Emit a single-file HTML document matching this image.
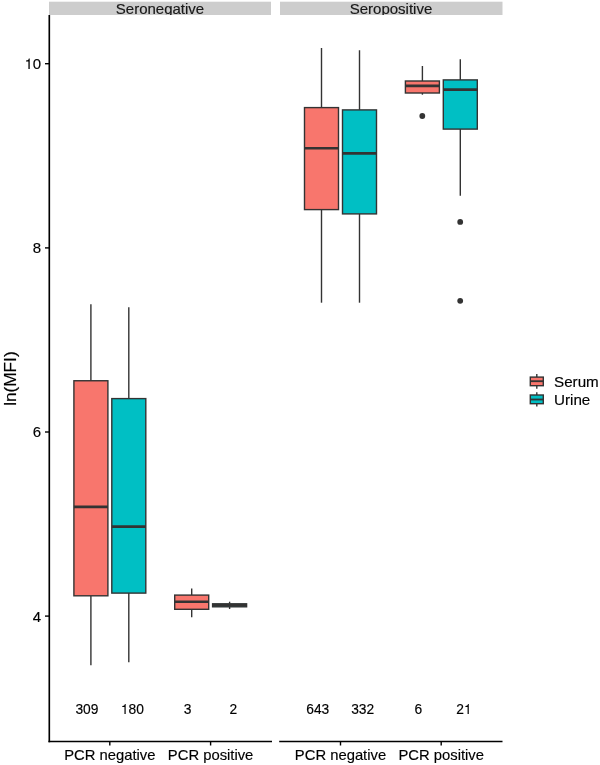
<!DOCTYPE html>
<html><head><meta charset="utf-8"><style>
html,body{margin:0;padding:0;background:#fff;}
svg{display:block;will-change:transform;font-family:"Liberation Sans",sans-serif;}
text{stroke:currentColor;stroke-width:0.15px;}
</style></head><body>
<svg width="600" height="765" viewBox="0 0 600 765">
<rect width="600" height="765" fill="#fff"/>
<rect x="49" y="1.7" width="222" height="13.3" fill="#CDCDCD"/>
<rect x="280" y="1.7" width="222.5" height="13.3" fill="#CDCDCD"/>
<clipPath id="c1"><rect x="49" y="1.7" width="222" height="13.3"/></clipPath>
<clipPath id="c2"><rect x="280" y="1.7" width="222.5" height="13.3"/></clipPath>
<text x="160" y="14.2" font-size="15" text-anchor="middle" fill="#1a1a1a" clip-path="url(#c1)">Seronegative</text>
<text x="391" y="14.2" font-size="15" text-anchor="middle" fill="#1a1a1a" clip-path="url(#c2)">Seropositive</text>
<line x1="90.9" y1="304.2" x2="90.9" y2="380.75" stroke="#333333" stroke-width="1.4"/>
<line x1="90.9" y1="595.8" x2="90.9" y2="665.3" stroke="#333333" stroke-width="1.4"/>
<rect x="73.90" y="380.75" width="34.00" height="215.05" fill="#F8766D" stroke="#333333" stroke-width="1.4"/>
<line x1="73.90" y1="506.9" x2="107.90" y2="506.9" stroke="#333333" stroke-width="2.6"/>
<line x1="128.8" y1="307.2" x2="128.8" y2="398.6" stroke="#333333" stroke-width="1.4"/>
<line x1="128.8" y1="593.1" x2="128.8" y2="662.2" stroke="#333333" stroke-width="1.4"/>
<rect x="111.80" y="398.6" width="34.00" height="194.50" fill="#00BFC4" stroke="#333333" stroke-width="1.4"/>
<line x1="111.80" y1="526.6" x2="145.80" y2="526.6" stroke="#333333" stroke-width="2.6"/>
<line x1="191.7" y1="588.4" x2="191.7" y2="595.1" stroke="#333333" stroke-width="1.4"/>
<line x1="191.7" y1="609.3" x2="191.7" y2="617.3" stroke="#333333" stroke-width="1.4"/>
<rect x="174.70" y="595.1" width="34.00" height="14.20" fill="#F8766D" stroke="#333333" stroke-width="1.4"/>
<line x1="174.70" y1="601.7" x2="208.70" y2="601.7" stroke="#333333" stroke-width="2.6"/>
<line x1="229.6" y1="601.7" x2="229.6" y2="603.8" stroke="#333333" stroke-width="1.4"/>
<line x1="229.6" y1="606.8" x2="229.6" y2="609.0" stroke="#333333" stroke-width="1.4"/>
<rect x="212.60" y="603.8" width="34.00" height="3.00" fill="#00BFC4" stroke="#333333" stroke-width="1.4"/>
<line x1="212.60" y1="605.3" x2="246.60" y2="605.3" stroke="#333333" stroke-width="2.6"/>
<line x1="321.5" y1="48.0" x2="321.5" y2="107.6" stroke="#333333" stroke-width="1.4"/>
<line x1="321.5" y1="209.6" x2="321.5" y2="302.7" stroke="#333333" stroke-width="1.4"/>
<rect x="304.50" y="107.6" width="34.00" height="102.00" fill="#F8766D" stroke="#333333" stroke-width="1.4"/>
<line x1="304.50" y1="148.3" x2="338.50" y2="148.3" stroke="#333333" stroke-width="2.6"/>
<line x1="359.5" y1="50.25" x2="359.5" y2="109.9" stroke="#333333" stroke-width="1.4"/>
<line x1="359.5" y1="213.9" x2="359.5" y2="302.7" stroke="#333333" stroke-width="1.4"/>
<rect x="342.50" y="109.9" width="34.00" height="104.00" fill="#00BFC4" stroke="#333333" stroke-width="1.4"/>
<line x1="342.50" y1="153.4" x2="376.50" y2="153.4" stroke="#333333" stroke-width="2.6"/>
<line x1="422.4" y1="66.0" x2="422.4" y2="81.0" stroke="#333333" stroke-width="1.4"/>
<line x1="422.4" y1="93.0" x2="422.4" y2="94.7" stroke="#333333" stroke-width="1.4"/>
<rect x="405.40" y="81.0" width="34.00" height="12.00" fill="#F8766D" stroke="#333333" stroke-width="1.4"/>
<line x1="405.40" y1="85.9" x2="439.40" y2="85.9" stroke="#333333" stroke-width="2.6"/>
<circle cx="422.3" cy="116.0" r="2.9" fill="#333333"/>
<line x1="460.3" y1="59.15" x2="460.3" y2="79.9" stroke="#333333" stroke-width="1.4"/>
<line x1="460.3" y1="129.1" x2="460.3" y2="195.8" stroke="#333333" stroke-width="1.4"/>
<rect x="443.30" y="79.9" width="34.00" height="49.20" fill="#00BFC4" stroke="#333333" stroke-width="1.4"/>
<line x1="443.30" y1="89.6" x2="477.30" y2="89.6" stroke="#333333" stroke-width="2.6"/>
<circle cx="460.2" cy="221.9" r="2.9" fill="#333333"/>
<circle cx="460.2" cy="300.8" r="2.9" fill="#333333"/>
<text x="75.39" y="713.9" font-size="13.8" fill="#000">3</text>
<text x="83.06" y="713.9" font-size="13.8" fill="#000">0</text>
<text x="90.74" y="713.9" font-size="13.8" fill="#000">9</text>
<path transform="translate(120.89,713.9) scale(0.01380,-0.01380)" d="M259 505H102V568Q204 581 235.0 604.0Q266 627 289 709H347V0H259Z" fill="#000"/>
<text x="128.56" y="713.9" font-size="13.8" fill="#000">8</text>
<text x="136.24" y="713.9" font-size="13.8" fill="#000">0</text>
<text x="183.86" y="713.9" font-size="13.8" fill="#000">3</text>
<text x="229.46" y="713.9" font-size="13.8" fill="#000">2</text>
<text x="306.24" y="713.9" font-size="13.8" fill="#000">6</text>
<text x="313.91" y="713.9" font-size="13.8" fill="#000">4</text>
<text x="321.59" y="713.9" font-size="13.8" fill="#000">3</text>
<text x="351.19" y="713.9" font-size="13.8" fill="#000">3</text>
<text x="358.86" y="713.9" font-size="13.8" fill="#000">3</text>
<text x="366.54" y="713.9" font-size="13.8" fill="#000">2</text>
<text x="414.46" y="713.9" font-size="13.8" fill="#000">6</text>
<text x="456.33" y="713.9" font-size="13.8" fill="#000">2</text>
<path transform="translate(464.00,713.9) scale(0.01380,-0.01380)" d="M259 505H102V568Q204 581 235.0 604.0Q266 627 289 709H347V0H259Z" fill="#000"/>
<line x1="49.3" y1="15" x2="49.3" y2="742.35" stroke="#000" stroke-width="1.65"/>
<line x1="48.475" y1="741.5" x2="272" y2="741.5" stroke="#000" stroke-width="1.7"/>
<line x1="279.2" y1="741.5" x2="502.5" y2="741.5" stroke="#000" stroke-width="1.7"/>
<line x1="45" y1="63.7" x2="49.3" y2="63.7" stroke="#000" stroke-width="1.4"/>
<path transform="translate(24.52,69.1) scale(0.01500,-0.01500)" d="M259 505H102V568Q204 581 235.0 604.0Q266 627 289 709H347V0H259Z" fill="#000"/>
<text x="32.86" y="69.1" font-size="15" fill="#000">0</text>
<line x1="45" y1="247.9" x2="49.3" y2="247.9" stroke="#000" stroke-width="1.4"/>
<text x="32.86" y="253.3" font-size="15" fill="#000">8</text>
<line x1="45" y1="432.0" x2="49.3" y2="432.0" stroke="#000" stroke-width="1.4"/>
<text x="32.86" y="437.4" font-size="15" fill="#000">6</text>
<line x1="45" y1="616.1" x2="49.3" y2="616.1" stroke="#000" stroke-width="1.4"/>
<text x="32.86" y="621.5" font-size="15" fill="#000">4</text>
<line x1="109.8" y1="741.5" x2="109.8" y2="745.5" stroke="#000" stroke-width="1.4"/>
<text x="109.8" y="760.1" font-size="14.8" text-anchor="middle" fill="#000">PCR negative</text>
<line x1="210.6" y1="741.5" x2="210.6" y2="745.5" stroke="#000" stroke-width="1.4"/>
<text x="210.6" y="760.1" font-size="14.8" text-anchor="middle" fill="#000">PCR positive</text>
<line x1="340.5" y1="741.5" x2="340.5" y2="745.5" stroke="#000" stroke-width="1.4"/>
<text x="340.5" y="760.1" font-size="14.8" text-anchor="middle" fill="#000">PCR negative</text>
<line x1="441.2" y1="741.5" x2="441.2" y2="745.5" stroke="#000" stroke-width="1.4"/>
<text x="441.2" y="760.1" font-size="14.8" text-anchor="middle" fill="#000">PCR positive</text>
<text transform="translate(15.75,378.6) rotate(-90)" font-size="17.2" text-anchor="middle" fill="#000">ln(MFI)</text>
<line x1="536.8" y1="373.9" x2="536.8" y2="377.1" stroke="#333333" stroke-width="1.4"/>
<line x1="536.8" y1="385.7" x2="536.8" y2="388.8" stroke="#333333" stroke-width="1.4"/>
<rect x="530.3" y="377.1" width="13" height="8.60" fill="#F8766D" stroke="#333333" stroke-width="1.4"/>
<line x1="530.3" y1="381.2" x2="543.3" y2="381.2" stroke="#333333" stroke-width="1.82"/>
<text x="554" y="386.80" font-size="15.2" fill="#000">Serum</text>
<line x1="536.8" y1="392.2" x2="536.8" y2="395.0" stroke="#333333" stroke-width="1.4"/>
<line x1="536.8" y1="403.7" x2="536.8" y2="406.6" stroke="#333333" stroke-width="1.4"/>
<rect x="530.3" y="395.0" width="13" height="8.70" fill="#00BFC4" stroke="#333333" stroke-width="1.4"/>
<line x1="530.3" y1="399.5" x2="543.3" y2="399.5" stroke="#333333" stroke-width="1.82"/>
<text x="554" y="404.75" font-size="15.2" fill="#000">Urine</text>
</svg>
</body></html>
